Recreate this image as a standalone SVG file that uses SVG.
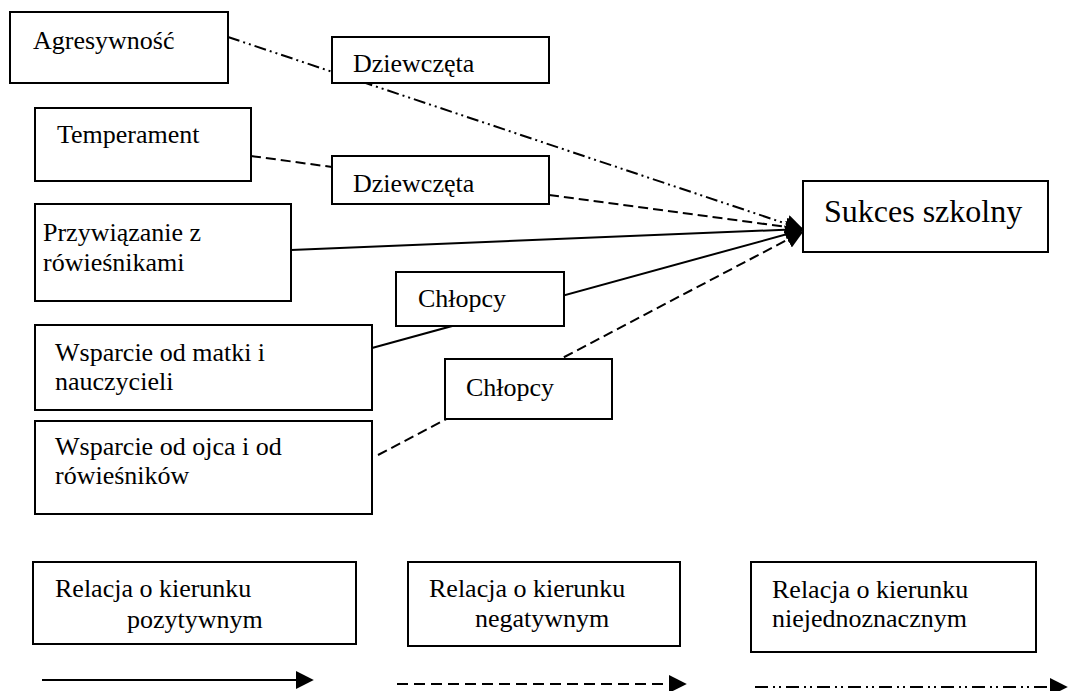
<svg xmlns="http://www.w3.org/2000/svg" width="1082" height="691" viewBox="0 0 1082 691">
<style>
.box{fill:#fff;stroke:#000;stroke-width:2}
.t{font-family:"Liberation Serif","Times New Roman",serif;font-size:26px;fill:#000}
.big{font-size:32px}
.c{fill:none;stroke:#000;stroke-width:2}
.dash{stroke-dasharray:10,5}
.dd{stroke-dasharray:12,4,2,4,2,4}
.ldash{stroke-dasharray:11,6}
.ldd{stroke-dasharray:13,5,2,4,2,5}
</style>
<defs>
<marker id="ah" viewBox="0 0 10 10" refX="9" refY="5" markerWidth="18" markerHeight="18" markerUnits="userSpaceOnUse" orient="auto"><path d="M0,0 L10,5 L0,10 Z" fill="#000"/></marker>
</defs>
<g id="connectors">
<line class="c dd" x1="228" y1="37" x2="802" y2="229" marker-end="url(#ah)"/>
<line class="c dash" x1="251" y1="156" x2="332" y2="167"/>
<line class="c dash" x1="549" y1="195" x2="802" y2="229" marker-end="url(#ah)"/>
<line class="c" x1="291" y1="250" x2="802" y2="229" marker-end="url(#ah)"/>
<line class="c" x1="372" y1="348" x2="802" y2="230" marker-end="url(#ah)"/>
<line class="c dash" x1="378" y1="455" x2="802" y2="232" marker-end="url(#ah)"/>
<line class="c" x1="42" y1="680" x2="312" y2="680" marker-end="url(#ah)"/>
<line class="c ldash" x1="397" y1="684" x2="685" y2="684" marker-end="url(#ah)"/>
<line class="c ldd" x1="755" y1="687" x2="1066" y2="687" marker-end="url(#ah)"/>
</g>
<g id="agresywnosc"><rect class="box" x="10" y="12" width="218" height="71"/><text class="t" x="33" y="49">Agresywność</text></g>
<g id="dziewczeta1"><rect class="box" x="332" y="37" width="217" height="46"/><text class="t" x="353" y="72">Dziewczęta</text></g>
<g id="temperament"><rect class="box" x="35" y="108" width="216" height="73"/><text class="t" x="57" y="143">Temperament</text></g>
<g id="dziewczeta2"><rect class="box" x="332" y="156" width="217" height="48"/><text class="t" x="353" y="192">Dziewczęta</text></g>
<g id="przywiazanie"><rect class="box" x="35" y="204" width="256" height="97"/><text class="t" x="43" y="241">Przywiązanie z</text><text class="t" x="43" y="271">rówieśnikami</text></g>
<g id="chlopcy1"><rect class="box" x="396" y="272" width="168" height="54"/><text class="t" x="418" y="307">Chłopcy</text></g>
<g id="matki"><rect class="box" x="35" y="325" width="337" height="85"/><text class="t" x="55" y="361">Wsparcie od matki i</text><text class="t" x="55" y="390">nauczycieli</text></g>
<g id="chlopcy2"><rect class="box" x="445" y="359" width="167" height="60"/><text class="t" x="466" y="396">Chłopcy</text></g>
<g id="ojca"><rect class="box" x="35" y="421" width="337" height="93"/><text class="t" x="55" y="455">Wsparcie od ojca i od</text><text class="t" x="55" y="484">rówieśników</text></g>
<g id="sukces"><rect class="box" x="803" y="181" width="245" height="71"/><text class="t big" x="824" y="222">Sukces szkolny</text></g>
<g id="leg1"><rect class="box" x="33" y="562" width="323" height="82"/><text class="t" x="55" y="597">Relacja o kierunku</text><text class="t" x="127" y="628">pozytywnym</text></g>
<g id="leg2"><rect class="box" x="408" y="562" width="272" height="84"/><text class="t" x="429" y="597">Relacja o kierunku</text><text class="t" x="475" y="627">negatywnym</text></g>
<g id="leg3"><rect class="box" x="751" y="562" width="285" height="90"/><text class="t" x="772" y="598">Relacja o kierunku</text><text class="t" x="772" y="627">niejednoznacznym</text></g>
</svg>
